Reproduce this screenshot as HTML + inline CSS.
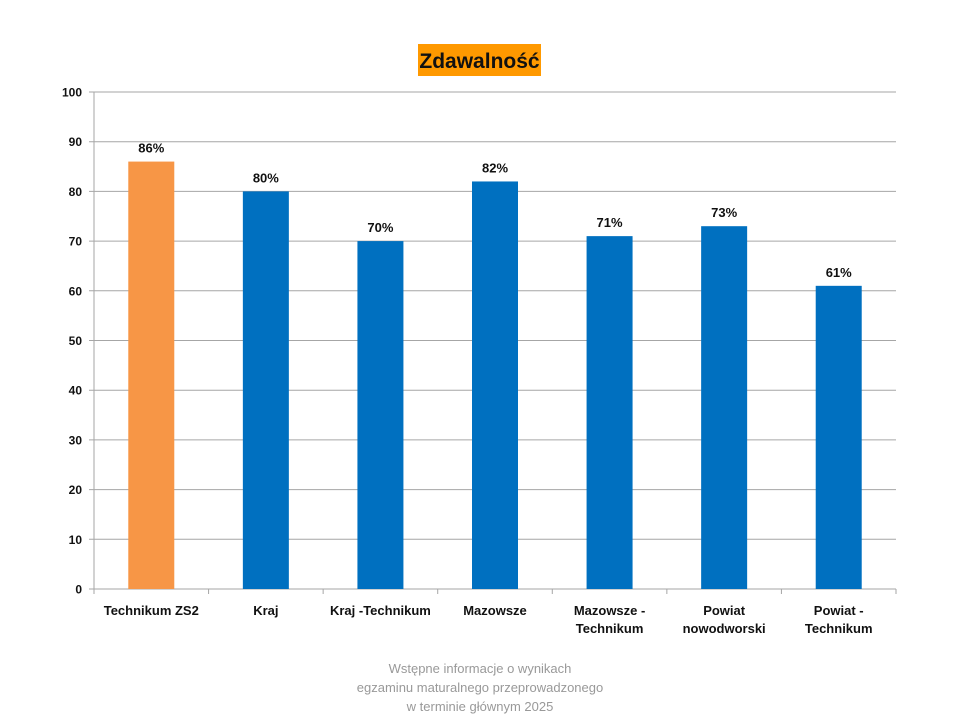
<!DOCTYPE html>
<html><head><meta charset="utf-8"><style>
body{margin:0;background:#fff;width:960px;height:720px;overflow:hidden;font-family:"Liberation Sans",sans-serif}
</style></head><body>
<svg id="c" width="960" height="720" xmlns="http://www.w3.org/2000/svg">
<rect x="418" y="44" width="123" height="32" fill="#ff9900"/>
<text x="479.5" y="68" text-anchor="middle" font-size="21" font-weight="bold" fill="#111">Zdawalność</text>
<g id="grid"></g><g id="bars"></g><g id="labels"></g>
<text text-anchor="middle" font-size="13" fill="#999"><tspan x="480" y="673">Wstępne informacje o wynikach</tspan><tspan x="480" y="692">egzaminu maturalnego przeprowadzonego</tspan><tspan x="480" y="711">w terminie głównym 2025</tspan></text>
</svg>
<script>
const categories=[["Technikum ZS2"],["Kraj"],["Kraj -Technikum"],["Mazowsze"],["Mazowsze -","Technikum"],["Powiat","nowodworski"],["Powiat -","Technikum"]];
const values=[86,80,70,82,71,73,61];
const valueLabels=["86%","80%","70%","82%","71%","73%","61%"];
const yTicks=[0,10,20,30,40,50,60,70,80,90,100];
const NS="http://www.w3.org/2000/svg";
const x0=94,x1=896,y0=589,y1=92;
const bw=(x1-x0)/categories.length;
const yS=v=>y0-(v/100)*(y0-y1);
const xC=i=>x0+bw*(i+0.5);
function mk(t,a,p){const e=document.createElementNS(NS,t);for(const k in a)e.setAttribute(k,a[k]);p.appendChild(e);return e;}
const g=document.getElementById('grid'),b=document.getElementById('bars'),l=document.getElementById('labels');
yTicks.forEach(v=>{
 const ln=mk('line',{x1:x0-5,x2:x1,y1:yS(v),y2:yS(v),stroke:'#a6a6a6','stroke-width':1},g);
 
 
 const t=mk('text',{x:x0-12,y:yS(v)+4.5,'text-anchor':'end','font-size':12,'font-weight':'bold',fill:'#111'},g);
 t.textContent=v;
 
 
});
const ax=mk('line',{x1:x0,x2:x0,y1:y1,y2:y0,stroke:'#a6a6a6'},g);


for(let i=0;i<=categories.length;i++){
 const tk=mk('line',{x1:x0+bw*i,x2:x0+bw*i,y1:y0,y2:y0+5,stroke:'#a6a6a6'},g);
 
 
}
values.forEach((v,i)=>{
 const r=mk('rect',{x:xC(i)-23,y:yS(v),width:46,height:y0-yS(v),fill:i===0?'#f79646':'#0070c0'},b);
 
 
 const t=mk('text',{x:xC(i),y:yS(v)-9,'text-anchor':'middle','font-size':13,'font-weight':'bold',fill:'#111'},l);
 t.textContent=valueLabels[i];
 
 
 const c=mk('text',{'text-anchor':'middle','font-size':13,'font-weight':'bold',fill:'#111'},l);
 
 
 categories[i].forEach((s,j)=>{const ts=mk('tspan',{x:xC(i),y:615+j*18},c);ts.textContent=s;});
});
</script>
</body></html>
